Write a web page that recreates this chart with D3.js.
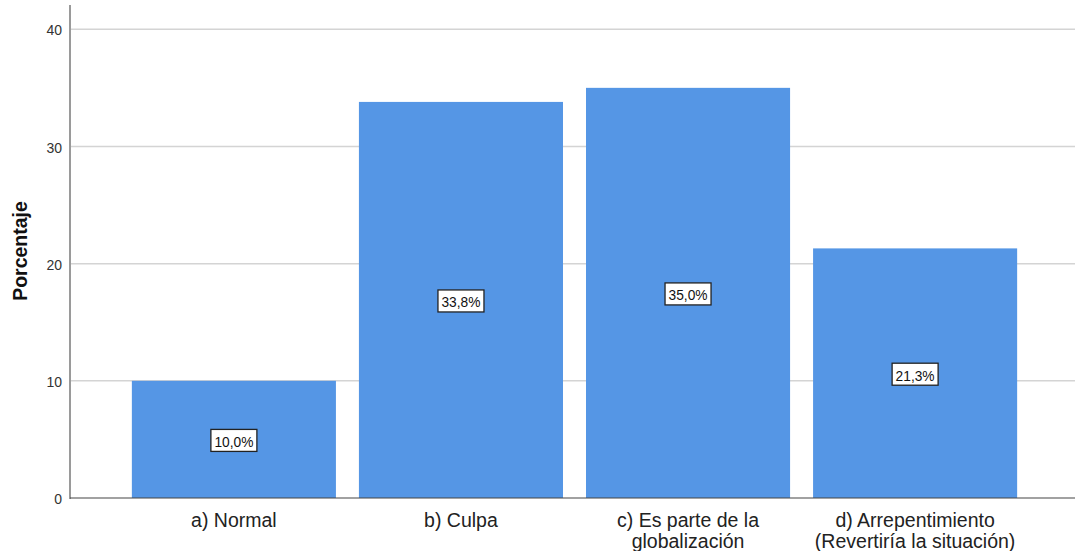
<!DOCTYPE html>
<html><head><meta charset="utf-8">
<script src="https://cdn.jsdelivr.net/npm/d3@7"></script>
<style>body{margin:0;background:#fff}svg{display:block}</style>
</head><body>
<svg id="chart" width="1075" height="551"></svg>
<script>
const categories = [["a) Normal"], ["b) Culpa"], ["c) Es parte de la", "globalización"], ["d) Arrepentimiento", "(Revertiría la situación)"]];
const values = [10.0, 33.8, 35.0, 21.3];
const valueLabels = ["10,0%", "33,8%", "35,0%", "21,3%"];
const yTicks = [0, 10, 20, 30, 40];

const svg = d3.select("#chart");
const pLeft = 70, pRight = 1075, pTop = 5, pBottom = 498;
const FONT = "Arial, 'Liberation Sans', sans-serif";
const y = d3.scaleLinear().domain([0, 42.07]).range([pBottom, pTop]);
const x = d3.scaleBand().domain(d3.range(values.length)).range([120.5, 1028.5]).paddingInner(0.1013).paddingOuter(0.05);

// gridlines
svg.append("g").selectAll("line").data(yTicks.filter(d => d > 0)).join("line")
  .attr("x1", pLeft).attr("x2", pRight).attr("y1", d => y(d)).attr("y2", d => y(d))
  .attr("stroke", "#d4d4d4").attr("stroke-width", 1.5);

// bars
svg.append("g").selectAll("rect").data(values).join("rect")
  .attr("x", (d, i) => x(i)).attr("width", x.bandwidth())
  .attr("y", d => y(d)).attr("height", d => pBottom - y(d))
  .attr("fill", "#5596e5");

// y axis
const yAxis = d3.axisLeft(y).tickValues(yTicks).tickSize(0).tickPadding(8).tickFormat(d3.format("d"));
const ga = svg.append("g").attr("transform", `translate(${pLeft},0)`).call(yAxis);
ga.select(".domain").remove();
ga.selectAll("text").attr("font-family", FONT).attr("font-size", 14).attr("fill", "#333").attr("dy", "0.4em");
svg.append("line").attr("x1", pLeft).attr("x2", pLeft).attr("y1", pTop).attr("y2", pBottom + 1)
  .attr("stroke", "#9a9a9a").attr("stroke-width", 2);

// x axis
svg.append("line").attr("x1", pLeft).attr("x2", pRight).attr("y1", pBottom).attr("y2", pBottom)
  .attr("stroke", "#444").attr("stroke-width", 1.2);
const xl = svg.append("g").selectAll("text").data(categories).join("text")
  .attr("x", (d, i) => x(i) + x.bandwidth() / 2).attr("y", 527)
  .attr("text-anchor", "middle").attr("font-family", FONT)
  .attr("font-size", 19.5).attr("fill", "#222");
xl.selectAll("tspan").data(d => d).join("tspan")
  .attr("x", function() { return this.parentNode.getAttribute("x"); })
  .attr("dy", (d, i) => i === 0 ? 0 : 20.5).text(d => d);

// y title
svg.append("text").attr("transform", `translate(27,${251}) rotate(-90)`)
  .attr("text-anchor", "middle").attr("font-family", FONT)
  .attr("font-size", 19.5).attr("font-weight", "bold").attr("fill", "#111").text("Porcentaje");

// value labels
const lg = svg.append("g").selectAll("g").data(values).join("g")
  .attr("transform", (d, i) => `translate(${x(i) + x.bandwidth() / 2},${y(d / 2)})`);
lg.append("rect").attr("x", -23).attr("y", -10).attr("width", 46).attr("height", 22)
  .attr("fill", "#fff").attr("stroke", "#222").attr("stroke-width", 1.3);
lg.append("text").attr("text-anchor", "middle").attr("dy", "0.36em").attr("y", 2)
  .attr("font-family", FONT).attr("font-size", 15).attr("fill", "#111")
  .attr("textLength", 39).attr("lengthAdjust", "spacingAndGlyphs")
  .text((d, i) => valueLabels[i]);
</script>
</body></html>
